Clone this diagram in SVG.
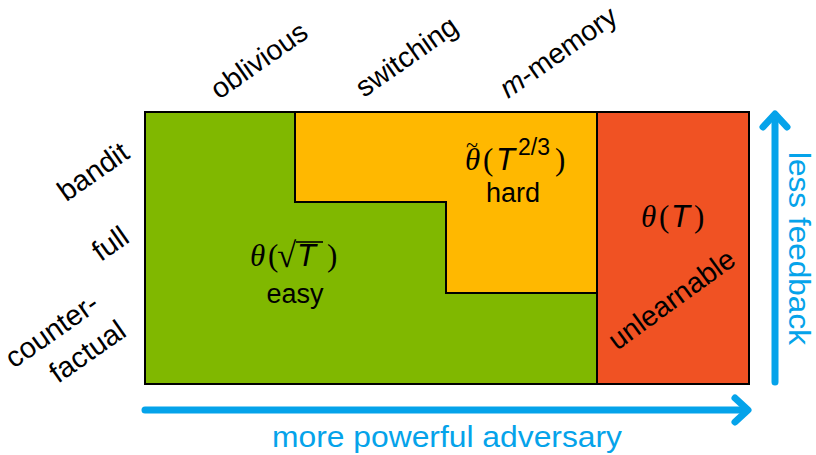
<svg xmlns="http://www.w3.org/2000/svg" width="816" height="455" viewBox="0 0 816 455">
  <style>
    .lbl { font-family: "Liberation Sans", Arial, sans-serif; font-size: 28.5px; fill: #000; }
    .row { font-size: 29px; text-anchor: end; }
    .word { font-family: "Liberation Sans", Arial, sans-serif; font-size: 27px; fill: #000; text-anchor: middle; }
    .math { font-family: "Liberation Serif", "Times New Roman", serif; font-size: 31px; fill: #000; }
    .mi { font-style: italic; }
    .msans { font-family: "Liberation Sans", Arial, sans-serif; font-style: italic; }
    .sup { font-family: "Liberation Sans", Arial, sans-serif; font-size: 23px; }
    .axis { font-family: "Liberation Sans", Arial, sans-serif; font-size: 30px; fill: #05a3ea; }
    .region { stroke: #000; stroke-width: 2; stroke-linejoin: miter; }
    .arrow { fill: none; stroke: #05a3ea; stroke-width: 7; stroke-linecap: round; stroke-linejoin: round; }
  </style>

  <!-- regions -->
  <g id="easy">
    <rect class="region" x="145" y="112" width="604" height="272" fill="#80b800"/>
  </g>
  <g id="hard">
    <path class="region" d="M295,112 H597 V293 H446 V202 H295 Z" fill="#ffb800"/>
  </g>
  <g id="unlearnable">
    <rect class="region" x="597" y="112" width="152" height="272" fill="#f05223"/>
  </g>

  <!-- column labels -->
  <g id="col-labels">
    <text class="lbl" transform="translate(219,100) rotate(-35)">oblivious</text>
    <text class="lbl" transform="translate(364,98) rotate(-35)">switching</text>
    <text class="lbl" transform="translate(508,99) rotate(-35)"><tspan font-style="italic">m</tspan>-memory</text>
  </g>

  <!-- row labels -->
  <g id="row-labels">
    <text class="lbl row" transform="translate(131,157) rotate(-35)">bandit</text>
    <text class="lbl row" transform="translate(131,241) rotate(-35)">full</text>
    <text class="lbl row" transform="translate(101,308) rotate(-35)">counter-</text>
    <text class="lbl row" transform="translate(128,335) rotate(-35)">factual</text>
  </g>

  <!-- region captions -->
  <g id="easy-label">
    <text class="math"><tspan class="mi" x="250" y="266">θ</tspan><tspan x="268" y="266">(</tspan><tspan x="277" y="267" font-size="35">√</tspan><tspan class="msans" x="297" y="266">T</tspan><tspan x="327" y="266">)</tspan></text>
    <line x1="296" y1="242" x2="323" y2="242" stroke="#000" stroke-width="1.6"/>
    <text class="word" x="295" y="303">easy</text>
  </g>
  <g id="hard-label">
    <text class="math"><tspan x="466" y="152" font-size="22">~</tspan><tspan class="mi" x="465" y="170">θ</tspan><tspan x="483" y="170">(</tspan><tspan class="msans" x="496" y="170">T</tspan><tspan class="sup" x="518" y="155">2/3</tspan><tspan x="555" y="170">)</tspan></text>
    <text class="word" x="513" y="202">hard</text>
  </g>
  <g id="unlearnable-label">
    <text class="math"><tspan class="mi" x="641" y="227">θ</tspan><tspan x="659" y="227">(</tspan><tspan class="msans" x="671" y="227">T</tspan><tspan x="694" y="227">)</tspan></text>
    <text class="lbl" transform="translate(617,351) rotate(-36)">unlearnable</text>
  </g>

  <!-- axis arrows -->
  <g id="connectors">
    <path class="arrow" d="M145,410 H747"/>
    <path class="arrow" d="M735,398 L748,410 L735,422"/>
    <path class="arrow" d="M775,382 V115"/>
    <path class="arrow" d="M763,127 L775,114 L787,127"/>
  </g>
  <g id="axis-labels">
    <text class="axis" x="272" y="447" textLength="350" lengthAdjust="spacingAndGlyphs">more powerful adversary</text>
    <text class="axis" transform="translate(789,152) rotate(90)" textLength="193" lengthAdjust="spacingAndGlyphs">less feedback</text>
  </g>
</svg>
